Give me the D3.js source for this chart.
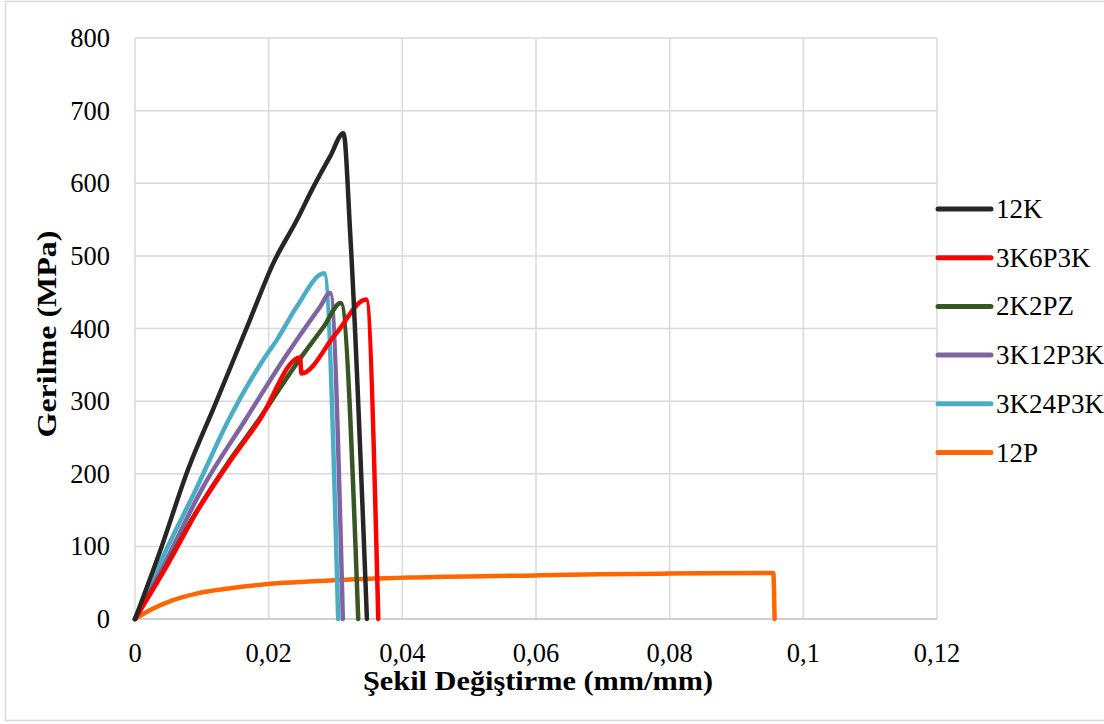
<!DOCTYPE html>
<html>
<head>
<meta charset="utf-8">
<script src="https://cdn.jsdelivr.net/npm/d3@7"></script>
</head>
<body style="margin:0">
<div id="chart"></div>
<script>
// strain (mm/mm) vs stress (MPa)
const s12K = [[0,0],[0.004,100],[0.0077,200],[0.0122,300],[0.0172,412],[0.0207,490],[0.0242,549],[0.0267,595],[0.0292,637],[0.0312,669],[0.0322,531],[0.0347,0]]
const s3K6P3K = [[0,0],[0.0047,72],[0.0094,150],[0.0142,217],[0.0185,272],[0.0247,360],[0.0249,338],[0.03,392],[0.0346,440],[0.0364,0]]
const s2K2PZ = [[0,0],[0.0047,74],[0.0092,148],[0.0096,154],[0.0142,219],[0.0185,274],[0.0242,352],[0.0282,402],[0.0308,435],[0.0334,0]]
const s3K12P3K = [[0,0],[0.0042,72],[0.0102,182],[0.0165,274],[0.0222,357],[0.0277,430],[0.0292,449],[0.0311,0]]
const s3K24P3K = [[0,0],[0.0042,86],[0.0092,180],[0.014,274],[0.0192,357],[0.0212,384],[0.0242,430],[0.0283,476],[0.0304,0]]
const s12P = [[0,0],[0.0022,12],[0.0057,26],[0.0092,35],[0.014,42],[0.0187,47],[0.0292,53],[0.0412,57],[0.06,60],[0.0696,61.5],[0.08,62.5],[0.0955,63.5],[0.0957,0]]

const seriesNames = ["12K", "3K6P3K", "2K2PZ", "3K12P3K", "3K24P3K", "12P"]
const seriesData = [s12K, s3K6P3K, s2K2PZ, s3K12P3K, s3K24P3K, s12P]
const seriesColors = ["#262626", "#ff0000", "#375623", "#8064a2", "#4bacc6", "#ff6600"]

const xTicks = [0, 0.02, 0.04, 0.06, 0.08, 0.1, 0.12]
const yTicks = [0, 100, 200, 300, 400, 500, 600, 700, 800]

const dimensions = {
  width: 1104,
  height: 724,
  margin: { top: 38, left: 135, bottom: 105, right: 167 },
}
dimensions.ctrWidth = dimensions.width - dimensions.margin.left - dimensions.margin.right
dimensions.ctrHeight = dimensions.height - dimensions.margin.top - dimensions.margin.bottom

const xScale = d3.scaleLinear().domain([0, 0.12]).range([0, dimensions.ctrWidth])
const yScale = d3.scaleLinear().domain([0, 800]).range([dimensions.ctrHeight, 0])

const svg = d3.select("#chart")
  .append("svg")
  .attr("width", dimensions.width)
  .attr("height", dimensions.height)

// chart frame
svg.append("rect")
  .attr("x", 5.5).attr("y", 1.5)
  .attr("width", 1200).attr("height", 719)
  .attr("fill", "none").attr("stroke", "#d9d9d9").attr("stroke-width", 1.5)

const ctr = svg.append("g")
  .attr("transform", `translate(${dimensions.margin.left}, ${dimensions.margin.top})`)

// gridlines
ctr.append("g").selectAll("line")
  .data(yTicks.filter(d => d > 0))
  .join("line")
  .attr("x1", 0).attr("x2", dimensions.ctrWidth)
  .attr("y1", d => yScale(d)).attr("y2", d => yScale(d))
  .attr("stroke", "#d9d9d9").attr("stroke-width", 1.5)

ctr.append("g").selectAll("line")
  .data(xTicks)
  .join("line")
  .attr("x1", d => xScale(d)).attr("x2", d => xScale(d))
  .attr("y1", 0).attr("y2", dimensions.ctrHeight)
  .attr("stroke", "#d9d9d9").attr("stroke-width", 1.5)

// axis lines and tick labels, drawn as plain texts
ctr.append("line")
  .attr("x1", 0).attr("x2", dimensions.ctrWidth)
  .attr("y1", dimensions.ctrHeight).attr("y2", dimensions.ctrHeight)
  .attr("stroke", "#bfbfbf").attr("stroke-width", 1.5)

ctr.append("g").selectAll("text")
  .data(xTicks)
  .join("text")
  .attr("x", d => xScale(d))
  .attr("y", dimensions.ctrHeight + 43)
  .attr("text-anchor", "middle")
  .attr("font-family", "Liberation Serif")
  .attr("font-size", 26.5)
  .text(d => String(d).replace(".", ","))

ctr.append("g").selectAll("text")
  .data(yTicks)
  .join("text")
  .attr("x", -25)
  .attr("y", d => yScale(d) + 9)
  .attr("text-anchor", "end")
  .attr("font-family", "Liberation Serif")
  .attr("font-size", 26.5)
  .text(d => d)

// axis titles
svg.append("text")
  .attr("x", 538)
  .attr("y", 690)
  .attr("text-anchor", "middle")
  .attr("textLength", 350)
  .attr("lengthAdjust", "spacingAndGlyphs")
  .attr("font-family", "Liberation Serif")
  .attr("font-size", 27)
  .attr("font-weight", "bold")
  .text("Şekil Değiştirme (mm/mm)")

svg.append("text")
  .attr("transform", "translate(56, 334) rotate(-90)")
  .attr("text-anchor", "middle")
  .attr("textLength", 207)
  .attr("lengthAdjust", "spacingAndGlyphs")
  .attr("font-family", "Liberation Serif")
  .attr("font-size", 27)
  .attr("font-weight", "bold")
  .text("Gerilme (MPa)")

// lines
const line = d3.line()
  .x(d => xScale(d[0]))
  .y(d => yScale(d[1]))
  .curve(d3.curveMonotoneX)

ctr.append("g").selectAll("path")
  .data(seriesData.map((d, i) => ({ name: seriesNames[i], values: d, color: seriesColors[i] })).reverse())
  .join("path")
  .attr("d", d => line(d.values))
  .attr("fill", "none")
  .attr("stroke", d => d.color)
  .attr("stroke-width", 4.5)
  .attr("stroke-linejoin", "round")
  .attr("stroke-linecap", "round")

// legend
const legend = svg.append("g").attr("transform", "translate(938, 209)")
const legendItem = legend.selectAll("g")
  .data(seriesNames)
  .join("g")
  .attr("transform", (d, i) => `translate(0, ${i * 48.7})`)

legendItem.append("line")
  .attr("x1", 0).attr("x2", 53)
  .attr("stroke", (d, i) => seriesColors[i])
  .attr("stroke-width", 5)
  .attr("stroke-linecap", "round")

legendItem.append("text")
  .attr("x", 58)
  .attr("y", 9)
  .attr("font-family", "Liberation Serif")
  .attr("font-size", 27)
  .text(d => d)
</script>
</body>
</html>
